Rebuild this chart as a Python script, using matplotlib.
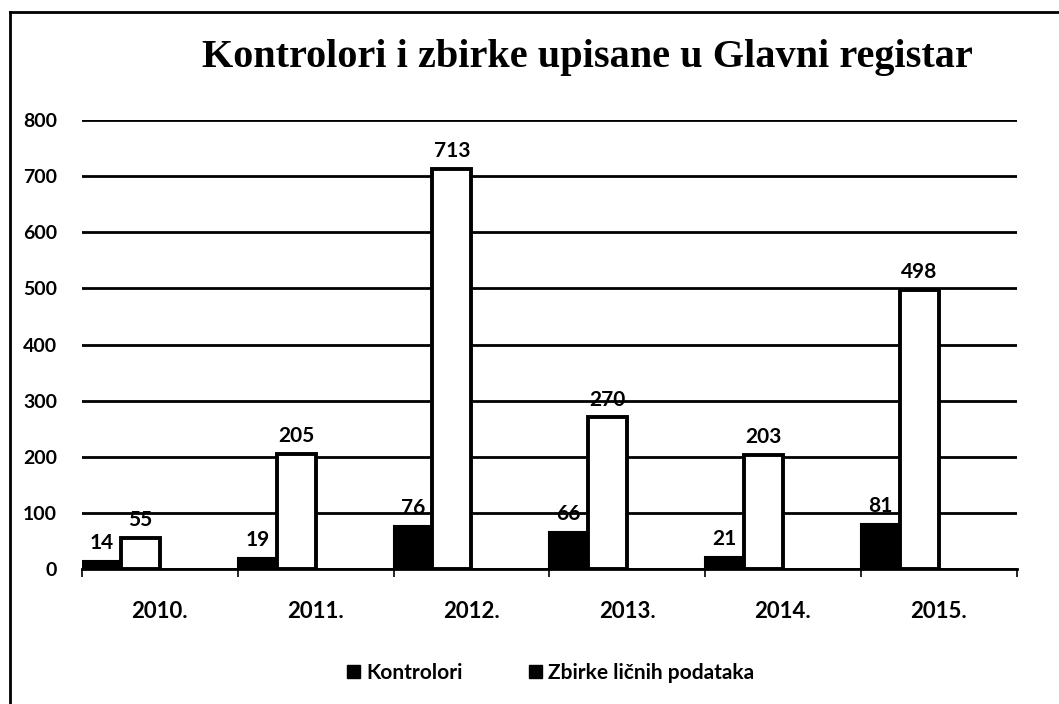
import numpy as np
import matplotlib.pyplot as plt
from matplotlib.patches import Patch
from matplotlib.lines import Line2D

years = ['2010.', '2011.', '2012.', '2013.', '2014.', '2015.']
kontrolori = [14, 19, 76, 66, 21, 81]
zbirke = [55, 205, 713, 270, 203, 498]
y_ticks = [0, 100, 200, 300, 400, 500, 600, 700, 800]

plt.rcParams['font.family'] = ['Lato', 'DejaVu Sans']

fig = plt.figure(figsize=(10.59, 7.04), dpi=100)
ax = fig.add_axes([0.0774, 0.1918, 0.8826, 0.6377])

x = np.arange(len(years))
w = 0.25
b1 = ax.bar(x - 0.375, kontrolori, w, color='black', edgecolor='black', linewidth=1.5, zorder=3)
b2 = ax.bar(x - 0.125, zbirke, w, color='white', edgecolor='black', linewidth=2.8, zorder=3)

# value labels above each bar
for rect, v in zip(list(b1) + list(b2), kontrolori + zbirke):
    ax.text(rect.get_x() + rect.get_width() / 2, v + 14, str(v), ha='center', va='bottom',
            fontsize=15, fontweight='bold', zorder=4)

ax.set_xlim(-0.5, len(years) - 0.5)
ax.set_ylim(0, 800)
ax.set_yticks(y_ticks)
ax.set_yticklabels([str(t) for t in y_ticks], fontsize=14, fontweight='bold')
ax.set_xticks(x)
ax.set_xticklabels(years, fontsize=16, fontweight='bold')
ax.set_xticks(np.arange(len(years) + 1) - 0.5, minor=True)
ax.tick_params(axis='x', which='major', length=0, pad=23)
ax.tick_params(axis='x', which='minor', length=6, width=1.2, direction='out')
ax.tick_params(axis='y', length=0, pad=18)

ax.grid(axis='y', color='black', linewidth=2.0, zorder=1)
for s in ['top', 'right', 'left']:
    ax.spines[s].set_visible(False)
ax.spines['bottom'].set_linewidth(2.0)
ax.spines['bottom'].set_zorder(4)

fig.text(0.555, 0.918, 'Kontrolori i zbirke upisane u Glavni registar', ha='center', va='center',
         fontsize=29, fontweight='bold', family='Liberation Serif')

handles = [Patch(facecolor='black', edgecolor='black'), Patch(facecolor='black', edgecolor='black')]
fig.legend(handles, ['Kontrolori', 'Zbirke ličnih podataka'], loc='center', bbox_to_anchor=(0.52, 0.044),
           ncol=2, frameon=False, prop={'size': 15, 'weight': 'bold'}, handlelength=0.6, handleheight=0.6,
           columnspacing=3.2, handletextpad=0.3)

# scanned page border
fig.add_artist(Line2D([0.0095, 0.0095], [0, 0.983], color='black', linewidth=2, transform=fig.transFigure))
fig.add_artist(Line2D([0.0095, 1.0], [0.983, 0.983], color='black', linewidth=2, transform=fig.transFigure))

fig.savefig('out.png', dpi=100)
